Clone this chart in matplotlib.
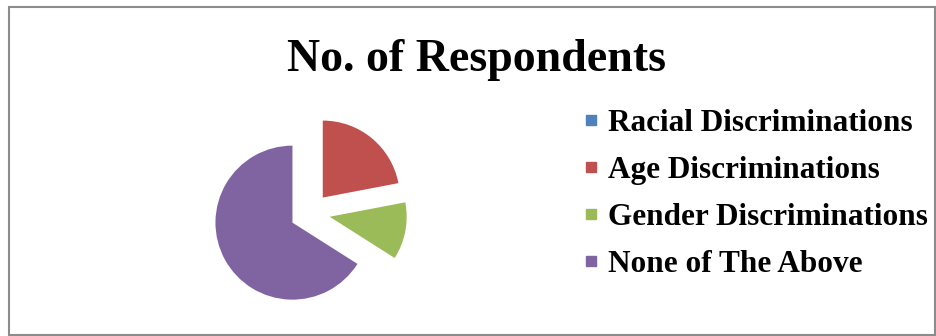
import matplotlib.pyplot as plt
from matplotlib.lines import Line2D
from matplotlib.patches import Rectangle

labels = ['Racial Discriminations', 'Age Discriminations',
          'Gender Discriminations', 'None of The Above']
respondents = [0, 11, 6, 33]
colors = ['#4F81BD', '#C0504D', '#9BBB59', '#8064A2']

W, H = 936, 336
fig = plt.figure(figsize=(W / 100, H / 100), dpi=100)
plt.rcParams['font.family'] = ['Liberation Serif', 'DejaVu Serif']

# outer chart frame
fig.patches.append(Rectangle((9 / W, 1 / H), (W - 10) / W, (H - 8) / H,
                             transform=fig.transFigure, fill=False,
                             edgecolor='#8c8c8c', linewidth=1.5))

# pie axes: centre at (310, 213) px, radius 77 px
r = 77.0
cx, cy = 310, H - 213
aw, ah = 300, 240
ax = fig.add_axes([(cx - aw / 2) / W, (cy - ah / 2) / H, aw / W, ah / H])
ax.pie(respondents, colors=colors, startangle=90, counterclock=False,
       explode=[0.26] * 4, radius=1.0,
       wedgeprops=dict(linewidth=0))
ax.set_xlim(-aw / 2 / r, aw / 2 / r)
ax.set_ylim(-ah / 2 / r, ah / 2 / r)
ax.set_aspect('equal')
ax.axis('off')

fig.text(477 / W, 1 - 60 / H, 'No. of Respondents', ha='center', va='center',
         fontsize=33, fontweight='bold')

handles = [Line2D([], [], marker='s', linestyle='none', markersize=6.5,
                  markerfacecolor=c, markeredgecolor=c) for c in colors]
fig.legend(handles, labels, loc='upper left',
           bbox_to_anchor=(583 / W, 1 - 109 / H), frameon=False,
           prop=dict(size=22.5, weight='bold'), handlelength=0.5,
           handletextpad=0.3, labelspacing=0.58, borderpad=0, borderaxespad=0)

fig.savefig('out.png', dpi=100, facecolor='white')
